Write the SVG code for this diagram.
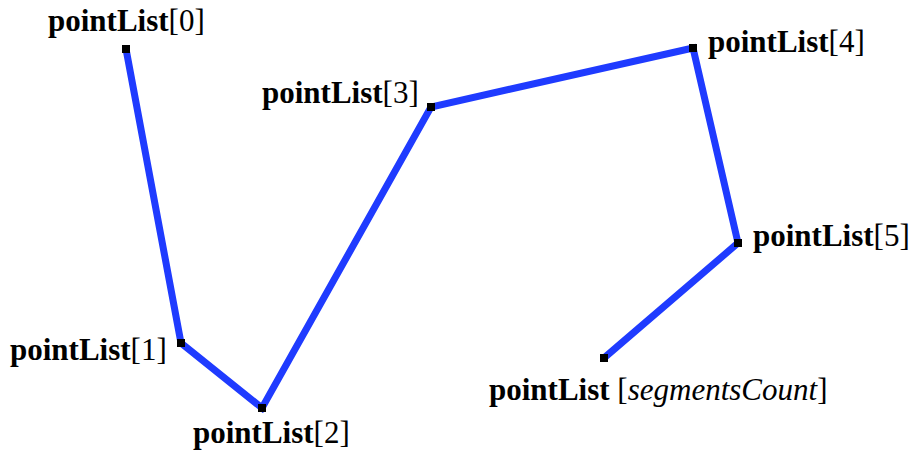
<svg xmlns="http://www.w3.org/2000/svg" width="916" height="453" viewBox="0 0 916 453">
<style>
.lbl{font-family:"Liberation Serif","Times New Roman",serif;font-size:31px;fill:#000}
.b{font-weight:bold}
.i{font-style:italic}
.pt{fill:#000}
.seg{fill:none;stroke:#1f3bff;stroke-width:7;stroke-linejoin:miter}
</style>
<rect width="916" height="453" fill="#fff"/>
<g id="connectors">
<polyline class="seg" points="126,49 181,343 262,408 431,107 693,48 738,243 604,358"/>
</g>
<g id="p0"><rect class="pt" x="122" y="45" width="8" height="8"/><text class="lbl" x="48" y="31"><tspan class="b">pointList</tspan>[0]</text></g>
<g id="p1"><rect class="pt" x="177" y="339" width="8" height="8"/><text class="lbl" x="10" y="360"><tspan class="b">pointList</tspan>[1]</text></g>
<g id="p2"><rect class="pt" x="258" y="404" width="8" height="8"/><text class="lbl" x="193" y="443"><tspan class="b">pointList</tspan>[2]</text></g>
<g id="p3"><rect class="pt" x="427" y="103" width="8" height="8"/><text class="lbl" x="262" y="103"><tspan class="b">pointList</tspan>[3]</text></g>
<g id="p4"><rect class="pt" x="689" y="44" width="8" height="8"/><text class="lbl" x="708" y="52"><tspan class="b">pointList</tspan>[4]</text></g>
<g id="p5"><rect class="pt" x="734" y="239" width="8" height="8"/><text class="lbl" x="753" y="246"><tspan class="b">pointList</tspan>[5]</text></g>
<g id="p6"><rect class="pt" x="600" y="354" width="8" height="8"/><text class="lbl" x="489" y="400"><tspan class="b">pointList</tspan> [<tspan class="i">segmentsCount</tspan>]</text></g>
</svg>
